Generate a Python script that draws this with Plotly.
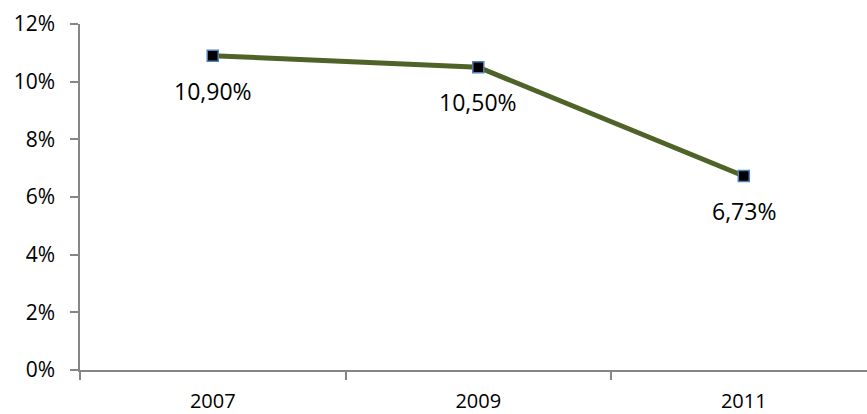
import plotly.graph_objects as go

# Share of the indicator by year
years = ["2007", "2009", "2011"]
rates = [10.90, 10.50, 6.73]
y_ticks = [0, 2, 4, 6, 8, 10, 12]
y_tick_text = [f"{v}%" for v in y_ticks]

FONT = "Open Sans"
AXIS_GREY = "#868686"

fig = go.Figure()
fig.add_trace(go.Scatter(
    x=years,
    y=rates,
    mode="lines+markers",
    line=dict(color="#4f6228", width=5),
    marker=dict(symbol="square", size=11, color="#000000",
                line=dict(color="#4f81bd", width=1.5)),
    hoverinfo="skip",
    showlegend=False,
))

# Value labels below each point (category index used for x position)
for i, v in enumerate(rates):
    fig.add_annotation(
        x=i, y=v, text=f"{v:.2f}%".replace(".", ","),
        showarrow=False, yshift=-35,
        font=dict(family=FONT, size=23, color="#000000"),
    )

fig.update_layout(
    width=867, height=414,
    margin=dict(l=80, r=0, t=24, b=42),
    paper_bgcolor="white", plot_bgcolor="white",
    font=dict(family=FONT, size=21, color="#000000"),
)
fig.update_xaxes(
    type="category", range=[-0.5, 2.464],
    showline=True, linecolor=AXIS_GREY, linewidth=1.5,
    ticks="outside", ticklen=8, tickcolor=AXIS_GREY, tickwidth=1.5,
    tickson="boundaries", showgrid=False, zeroline=False,
    ticklabelstandoff=12, tickfont=dict(size=20),
)
fig.update_yaxes(
    range=[0, 12], tickvals=y_ticks, ticktext=y_tick_text,
    showline=True, linecolor=AXIS_GREY, linewidth=1.5,
    ticks="outside", ticklen=8, tickcolor=AXIS_GREY, tickwidth=1.5,
    showgrid=False, zeroline=False,
    ticklabelstandoff=11,
)

fig.write_html("out.html")
